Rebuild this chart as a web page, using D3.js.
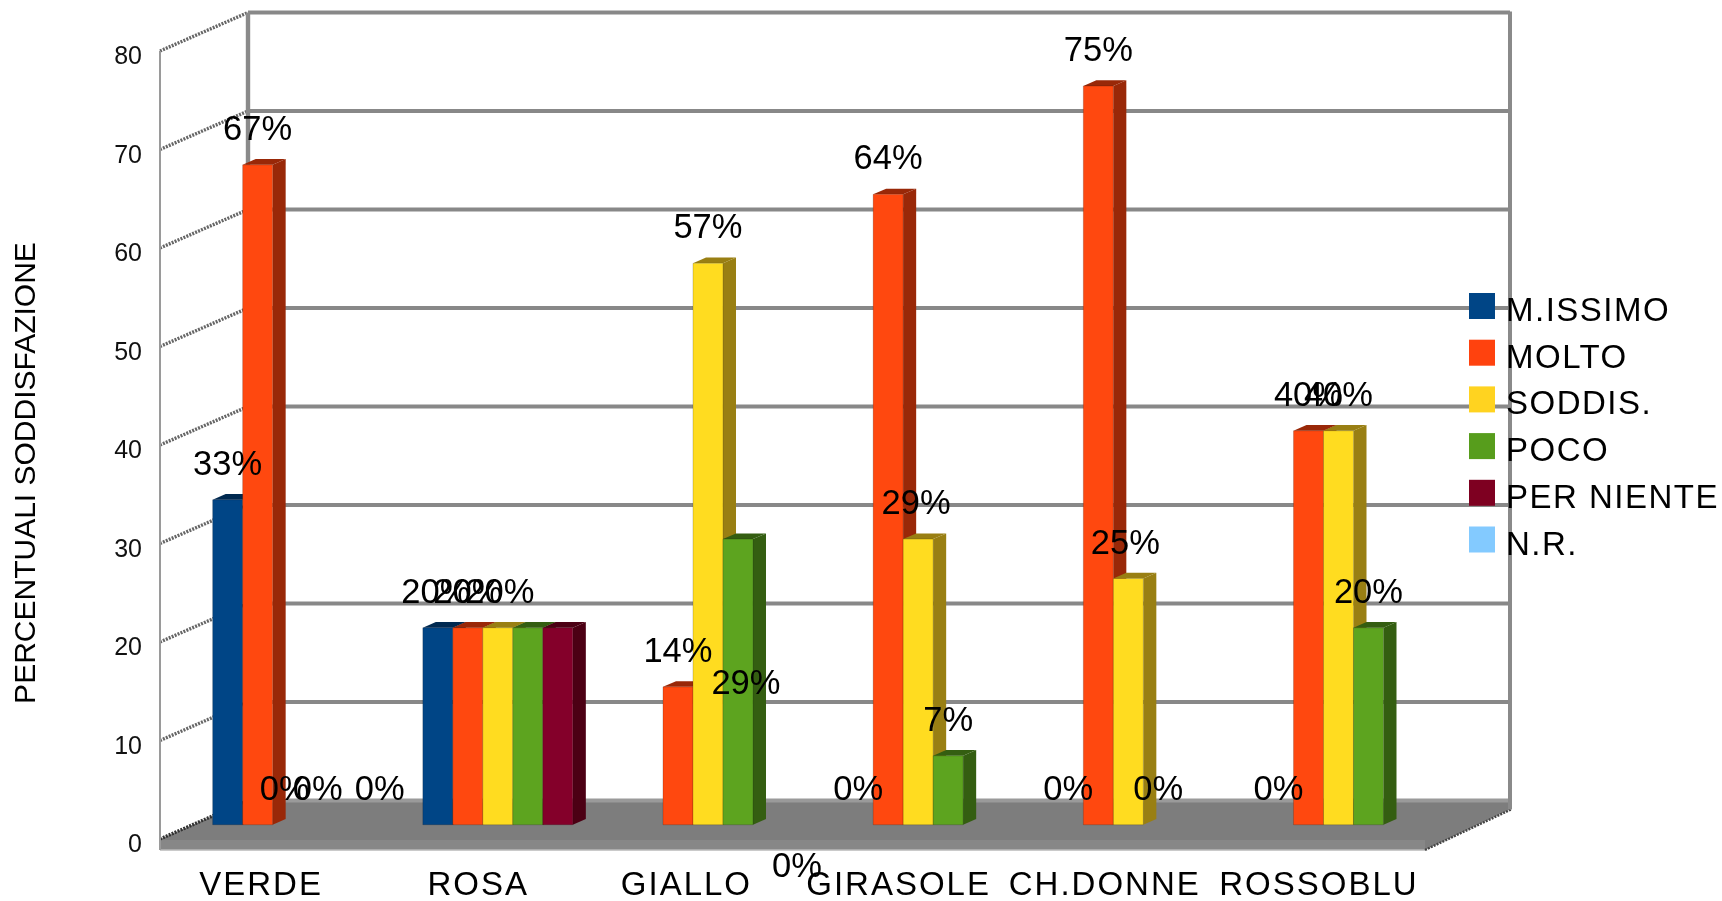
<!DOCTYPE html>
<html><head><meta charset="utf-8">
<script src="https://cdn.jsdelivr.net/npm/d3@7"></script>
<style>
html,body{margin:0;padding:0;background:#fff}
svg{display:block;filter:blur(0.65px)}
text{font-family:"Liberation Sans",Arial,sans-serif;fill:#000}
</style></head><body><svg id="c" width="1722" height="901"></svg>
<script>
// ---- data ----
const categories = ["VERDE","ROSA","GIALLO","GIRASOLE","CH.DONNE","ROSSOBLU"];
const seriesNames = ["M.ISSIMO","MOLTO","SODDIS.","POCO","PER NIENTE","N.R."];
const mIssimo   = [33,20, 0, 0, 0, 0];
const molto     = [67,20,14,64,75,40];
const soddis    = [ 0,20,57,29,25,40];
const poco      = [ 0,20,29, 7, 0,20];
const perNiente = [ 0,20, 0, 0, 0, 0];
const nonRisp   = [ 0, 0, 0, 0, 0, 0];
const seriesValues = [mIssimo,molto,soddis,poco,perNiente,nonRisp];
// which categories (by index) show a value label, per series
const labelledCats = [[0,1,2,3,4,5],[0,1,2,3,4,5],[0,1,2,3,4,5],[0,2,3,4,5],[],[0]];
const yTicks = [0,10,20,30,40,50,60,70,80];
const yTitle = "PERCENTUALI SODDISFAZIONE";

// ---- style / layout ----
const colors = ["#004586","#ff420e","#ffd320","#579d1c","#7e0021","#83caff"];
const barColors = ["#004586","#ff480f","#ffdc20","#5da41f","#84002a","#83caff"];
const W = {left:165,right:1426,y0:839,y80:51,depthX:88,depthY:38.5,barDepth:0.37,barThick:0.148,barW:30};
const nudge = {"0|2":[-3,0],"2|0":[149,77],"2|3":[8,180],"3|2":[-2,0],"4|2":[-3,0],"0|5":[2,0],"1|0":[-2,0],"1|2":[2,0]};
const xNudge = {"VERDE":-9,"CH.DONNE":-6,"GIALLO":-4,"ROSA":-2,"GIRASOLE":-2,"ROSSOBLU":-2};

const svg = d3.select("#c");
const x = d3.scaleBand().domain(categories).range([W.left,W.right]);
const xs = d3.scaleBand().domain(d3.range(6)).range([0,W.barW*6]);
const y = d3.scaleLinear().domain([0,80]).range([W.y0,W.y80]);
const P = (px,py,d)=>[px+W.depthX*d,py-W.depthY*d];
const poly = pts=>pts.map(p=>p.join(",")).join(" ");

// ---- walls ----
const wallL = 160, wallR = 1510;
const g = svg.append("g");
// floor
const fb = P(wallL,y(0),1);
g.append("polygon").attr("fill","#7d7d7d")
 .attr("points",poly([[wallL,y(0)],fb,[wallR,fb[1]],[wallR,fb[1]+9],[1425,850],[wallL,850]]));
g.append("polygon").attr("fill","#878787")
 .attr("points",poly([[wallL,y(0)+1],[1425,y(0)+1],[1425,850],[wallL,850]]));
g.append("line").attr("x1",wallL).attr("x2",1425).attr("y1",850).attr("y2",850).attr("stroke","#b8b8b8").attr("stroke-width",1.5);
g.append("line").attr("x1",1425).attr("y1",850).attr("x2",wallR+1).attr("y2",fb[1]+9)
 .attr("stroke","#444").attr("stroke-width",2.4).attr("stroke-dasharray","2 1.2");
// grid lines on back wall, jagged side-wall lines
yTicks.forEach(t=>{
  const a=P(wallL,y(t),1);
  g.append("line").attr("x1",a[0]).attr("y1",a[1]).attr("x2",wallR).attr("y2",a[1])
   .attr("stroke",t===0?"#9a9a9a":"#888").attr("stroke-width",3.8);
  g.append("line").attr("x1",wallL).attr("y1",y(t)).attr("x2",a[0]).attr("y2",a[1])
   .attr("stroke",t===0?"#333":"#666").attr("stroke-width",3.4).attr("stroke-dasharray","2 1.2");
});
g.append("line").attr("x1",wallL).attr("x2",wallL).attr("y1",y(80)).attr("y2",850).attr("stroke","#9a9a9a").attr("stroke-width",2);
g.append("line").attr("x1",fb[0]).attr("x2",fb[0]).attr("y1",y(80)-38.5).attr("y2",fb[1]).attr("stroke","#8a8a8a").attr("stroke-width",4.4);
g.append("line").attr("x1",wallR).attr("x2",wallR).attr("y1",y(80)-39.5).attr("y2",fb[1]+9).attr("stroke","#8a8a8a").attr("stroke-width",4);

// ---- bars ----
const barX = (c,s)=>x(c)+(x.bandwidth()-xs.bandwidth()*6)/2+xs(s);
const bars = g.append("g");
categories.forEach((c,ci)=>{
  seriesValues.forEach((vals,si)=>{
    const v = vals[ci]; if(!v) return;
    const col = barColors[si];
    const dark = d3.rgb(colors[si]); const side = d3.rgb(dark.r*.6,dark.g*.6,dark.b*.6).formatHex();
    const a = P(barX(c,si),y(v),W.barDepth), b = P(barX(c,si)+xs.bandwidth(),y(v),W.barDepth);
    const a0 = P(barX(c,si),y(0),W.barDepth), b0 = P(barX(c,si)+xs.bandwidth(),y(0),W.barDepth);
    const sh = [W.depthX*W.barThick,-W.depthY*W.barThick];
    const o = p=>[p[0]+sh[0],p[1]+sh[1]];
    bars.append("polygon").attr("fill",side).attr("points",poly([b,o(b),o(b0),b0]));
    bars.append("polygon").attr("fill",side).attr("points",poly([a,o(a),o(b),b]));
    bars.append("polygon").attr("fill",col).attr("stroke","rgba(0,0,0,.25)").attr("stroke-width",.7)
      .attr("points",poly([a,b,b0,a0]));
  });
});

// ---- value labels ----
const labels = g.append("g");
seriesValues.forEach((vals,si)=>{
  labelledCats[si].forEach(ci=>{
    const c = categories[ci], v = vals[ci];
    const p = P(barX(c,si)+xs.bandwidth()/2,y(v),W.barDepth);
    const n = nudge[ci+"|"+si]||[0,0];
    labels.append("text").attr("x",p[0]+n[0]).attr("y",p[1]-25+n[1])
      .attr("text-anchor","middle").attr("font-size",34.5).text(v+"%");
  });
});

// ---- axes ----
const yAxis = d3.axisLeft(y).tickValues(yTicks).tickSize(0).tickPadding(0);
svg.append("g").attr("transform","translate(142,4.6)").call(yAxis)
  .call(s=>s.select(".domain").remove())
  .selectAll("text").attr("font-size",25).style("font-family",'"Liberation Sans"').style("fill","#111");
const xAxis = d3.axisBottom(x).tickSize(0).tickPadding(0);
svg.append("g").attr("transform","translate(0,864)").call(xAxis)
  .call(s=>s.select(".domain").remove())
  .selectAll("text").attr("font-size",33).attr("letter-spacing",2)
  .style("font-family",'"Liberation Sans"').style("fill","#000")
  .attr("dx",d=>xNudge[d]||0).attr("dy",0).attr("y",31);
svg.append("text").attr("transform","translate(35,473) rotate(-90)")
  .attr("text-anchor","middle").attr("font-size",30).text(yTitle);

// ---- legend ----
const leg = svg.append("g");
seriesNames.forEach((n,i)=>{
  const cy = 306+46.7*i;
  leg.append("rect").attr("x",1469).attr("y",cy-13).attr("width",26).attr("height",26).attr("fill",colors[i]);
  leg.append("text").attr("x",1506).attr("y",cy+15).attr("font-size",33).attr("letter-spacing",1.5).text(n);
});
</script></body></html>
